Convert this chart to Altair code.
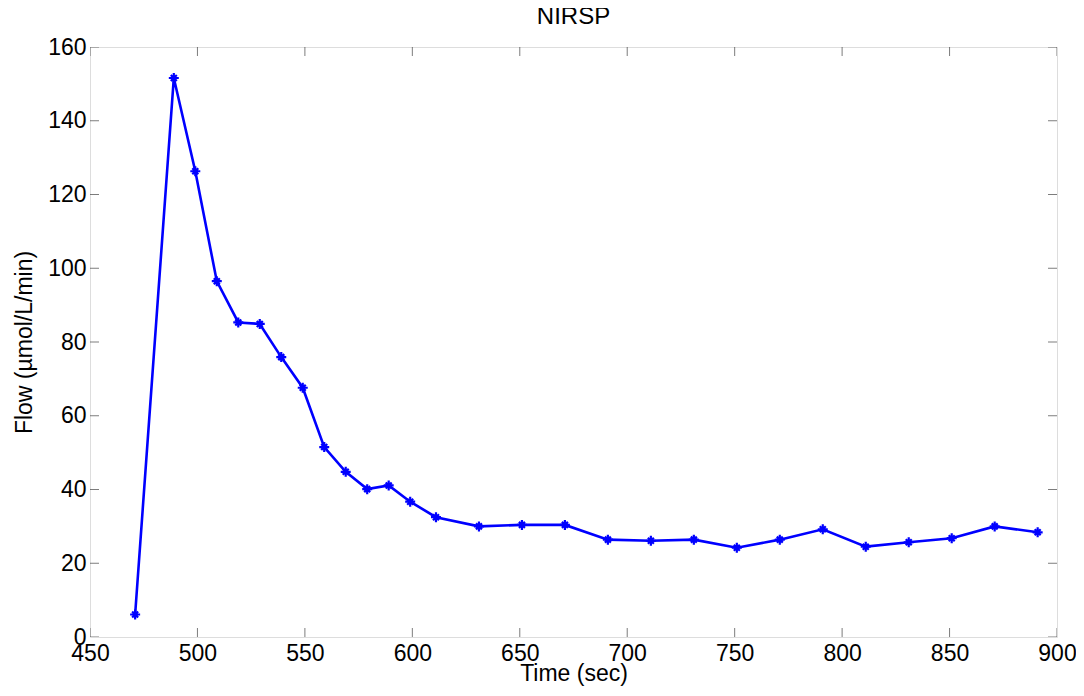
import altair as alt
import pandas as pd

time_sec = [471, 489, 499, 509, 519, 529, 539, 549, 559, 569, 579, 589, 599, 611,
            631, 651, 671, 691, 711, 731, 751, 771, 791, 811, 831, 851, 871, 891]
flow = [6.1, 151.6, 126.3, 96.5, 85.3, 84.9, 75.9, 67.6, 51.5, 44.8, 40.1, 41.1, 36.7, 32.5,
        30.0, 30.4, 30.4, 26.4, 26.1, 26.4, 24.2, 26.4, 29.2, 24.5, 25.7, 26.8, 30.0, 28.4]
x_ticks = [450, 500, 550, 600, 650, 700, 750, 800, 850, 900]
y_ticks = [0, 20, 40, 60, 80, 100, 120, 140, 160]

W, H = 967, 590
FONT = "Liberation Sans"
BLUE = "#0000ff"
FS = 23

df = pd.DataFrame({"t": time_sec, "f": flow})
dx = pd.DataFrame({"v": x_ticks})
dy = pd.DataFrame({"v": y_ticks})

xs = alt.Scale(domain=[450, 900], nice=False, zero=False)
ys = alt.Scale(domain=[0, 160], nice=False)

xaxis = alt.Axis(values=x_ticks, ticks=False, domain=False, grid=False, labelFontSize=FS,
                 labelFont=FONT, labelColor="black", labelPadding=5, labelFlush=False,
                 labelOverlap=False,
                 title="Time (sec)", titleFontSize=FS, titleFont=FONT, titleFontWeight="normal",
                 titleColor="black", titlePadding=-3)
yaxis = alt.Axis(values=y_ticks, ticks=False, domain=False, grid=False, labelFontSize=FS,
                 labelFont=FONT, labelColor="black", labelPadding=4, labelFlush=False,
                 labelOverlap=False,
                 title="Flow (\u00b5mol/L/min)", titleFontSize=FS, titleFont=FONT,
                 titleFontWeight="normal", titleColor="black", titlePadding=11)

line = alt.Chart(df).mark_line(color=BLUE, strokeWidth=2.6).encode(
    x=alt.X("t:Q", scale=xs, axis=xaxis),
    y=alt.Y("f:Q", scale=ys, axis=yaxis),
)
star = "M-1,0L1,0M0,-1L0,1M-0.6,-0.6L0.6,0.6M-0.6,0.6L0.6,-0.6"
pts = alt.Chart(df).mark_point(shape=star, filled=False, color=BLUE, strokeWidth=2.2,
                               size=100, opacity=1).encode(
    x=alt.X("t:Q", scale=xs), y=alt.Y("f:Q", scale=ys))

tick_style = dict(clip=True, color="#444444", thickness=1, size=18)
xt_bottom = alt.Chart(dx).mark_tick(orient="vertical", **tick_style).encode(
    x=alt.X("v:Q", scale=xs), y=alt.value(H))
xt_top = alt.Chart(dx).mark_tick(orient="vertical", **tick_style).encode(
    x=alt.X("v:Q", scale=xs), y=alt.value(0))
yt_left = alt.Chart(dy).mark_tick(orient="horizontal", **tick_style).encode(
    y=alt.Y("v:Q", scale=ys), x=alt.value(0))
yt_right = alt.Chart(dy).mark_tick(orient="horizontal", **tick_style).encode(
    y=alt.Y("v:Q", scale=ys), x=alt.value(W))

chart = alt.layer(xt_bottom, xt_top, yt_left, yt_right, line, pts).properties(
    width=W, height=H,
    title=alt.TitleParams("NIRSP", fontSize=24, font=FONT, fontWeight="normal",
                          color="black", offset=7),
    autosize=alt.AutoSizeParams(type="none"),
    padding={"left": 82, "top": 39, "right": 19, "bottom": 51},
).configure_view(stroke="black", strokeWidth=1.2).configure(background="white")

chart.save("out.html", embed_options={"renderer": "svg", "actions": False})
